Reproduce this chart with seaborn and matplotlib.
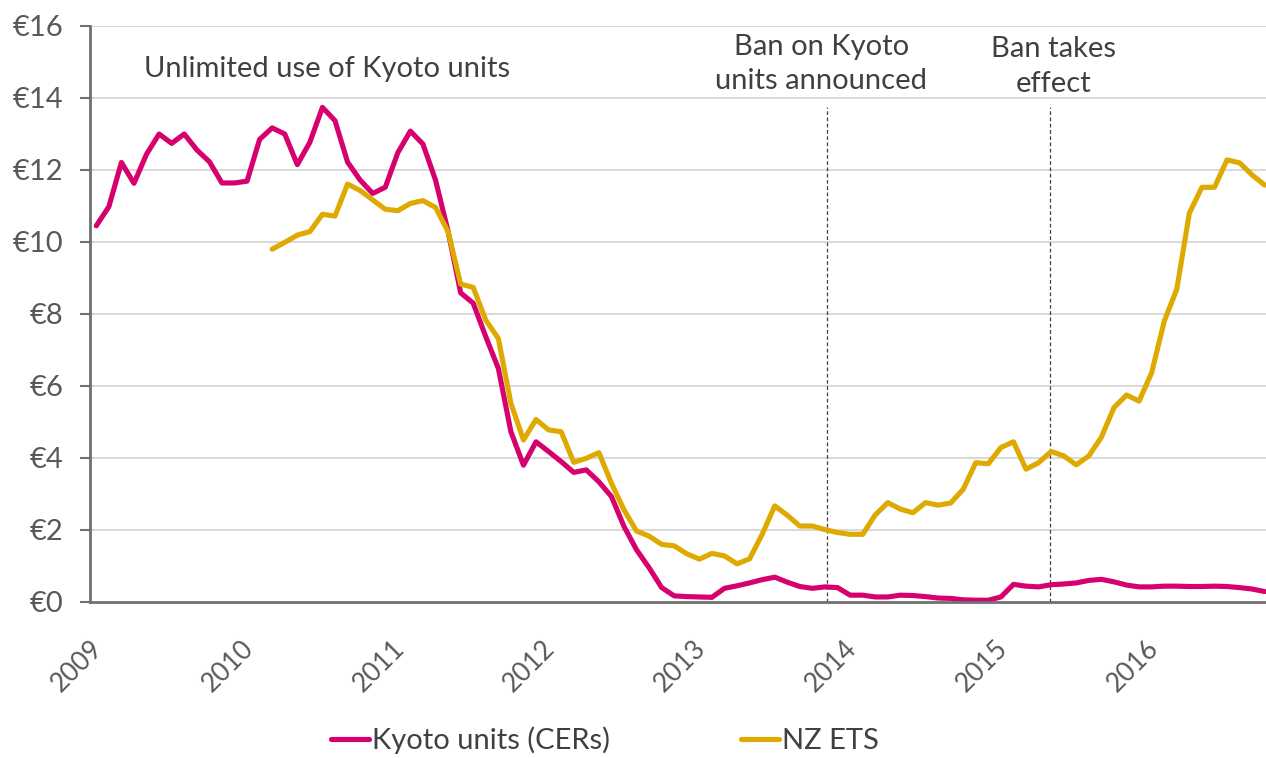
import numpy as np
import pandas as pd
import matplotlib
matplotlib.use("Agg")
import matplotlib.pyplot as plt
import matplotlib.transforms as mtransforms
import seaborn as sns

# Monatswerte ab Januar 2009 (Preis in Euro)
kyoto_start = "2009-01"
kyoto_cers = [
    10.45, 10.98, 12.21, 11.63, 12.44, 13.00, 12.74, 13.00, 12.56, 12.23, 11.64, 11.64,
    11.69, 12.85, 13.17, 13.00, 12.15, 12.77, 13.74, 13.37, 12.22, 11.72, 11.35, 11.52,
    12.48, 13.08, 12.72, 11.72, 10.30, 8.59, 8.30, 7.37, 6.49, 4.73, 3.80, 4.45,
    4.18, 3.90, 3.60, 3.67, 3.34, 2.93, 2.10, 1.45, 0.95, 0.40, 0.17, 0.15,
    0.14, 0.13, 0.38, 0.45, 0.53, 0.62, 0.69, 0.55, 0.43, 0.38, 0.42, 0.40,
    0.19, 0.19, 0.14, 0.14, 0.19, 0.18, 0.15, 0.11, 0.10, 0.06, 0.05, 0.05,
    0.14, 0.49, 0.44, 0.42, 0.48, 0.50, 0.53, 0.60, 0.63, 0.56, 0.47, 0.42,
    0.42, 0.44, 0.44, 0.43, 0.43, 0.44, 0.43, 0.40, 0.36, 0.29,
]

# NZ ETS ab März 2010
nz_start = "2010-03"
nz_ets = [
    9.80, 9.99, 10.19, 10.29, 10.77, 10.72, 11.61, 11.43, 11.17, 10.91,
    10.87, 11.07, 11.15, 10.96, 10.29, 8.83, 8.74, 7.83, 7.32, 5.52, 4.50, 5.07,
    4.78, 4.73, 3.88, 3.99, 4.15, 3.30, 2.56, 1.97, 1.83, 1.60, 1.56, 1.34,
    1.19, 1.35, 1.28, 1.06, 1.20, 1.88, 2.67, 2.41, 2.11, 2.11, 2.01, 1.93,
    1.88, 1.88, 2.42, 2.76, 2.58, 2.48, 2.76, 2.69, 2.75, 3.13, 3.87, 3.84,
    4.29, 4.45, 3.69, 3.87, 4.18, 4.06, 3.81, 4.06, 4.58, 5.40, 5.75, 5.58,
    6.37, 7.80, 8.69, 10.80, 11.52, 11.52, 12.28, 12.20, 11.86, 11.58,
]

series_names = ["Kyoto units (CERs)", "NZ ETS"]
series_colors = ["#D6006E", "#DEA900"]
year_ticks = list(range(2009, 2017))
y_ticks = list(range(0, 17, 2))

# Ereignisse (Dezimaljahr) und Beschriftungen
events = [2013.89, 2015.37]
event_labels = ["Ban on Kyoto\nunits announced", "Ban takes\neffect"]


def to_frame(start, values, name):
    dates = pd.date_range(start, periods=len(values), freq="MS")
    # Punkte in der Monatsmitte, wie bei Excel-Datumsachsen
    x = dates.year + (dates.month - 0.5) / 12
    return pd.DataFrame({"x": x, "price": values, "series": name})


df = pd.concat([
    to_frame(kyoto_start, kyoto_cers, series_names[0]),
    to_frame(nz_start, nz_ets, series_names[1]),
], ignore_index=True)

sns.set_theme(style="white")
plt.rcParams["font.family"] = ["Lato", "DejaVu Sans"]
text_col = "#404040"
fs = 21

fig = plt.figure(figsize=(12.66, 7.58), dpi=100)
ax = fig.add_axes([90 / 1266, 1 - 602 / 758, 1 - 90 / 1266, (602 - 26) / 758])

for y in y_ticks[1:]:
    ax.axhline(y, color="#d9d9d9", lw=1.5, zorder=0)

sns.lineplot(data=df, x="x", y="price", hue="series", hue_order=series_names,
             palette=series_colors, linewidth=3.7, ax=ax, legend=True)

for xv in events:
    ax.plot([xv, xv], [0, 13.75], ls=(0, (3, 2)), color="#404040", lw=0.9, zorder=1)

ax.set_xlim(2009, 2016.8)
ax.set_ylim(0, 16)
ax.set_xticks(year_ticks)
ax.set_xticklabels([str(y) for y in year_ticks], rotation=45, ha="right",
                   rotation_mode="anchor", fontsize=19, color="#595959")
# Beschriftungen etwas nach rechts schieben (Excel-Stil)
shift = mtransforms.ScaledTranslation(10 / 100, 0, fig.dpi_scale_trans)
for lbl in ax.get_xticklabels():
    lbl.set_transform(lbl.get_transform() + shift)
ax.set_yticks(y_ticks)
ax.set_yticklabels([f"€{y}" for y in y_ticks], fontsize=fs, color="#595959")
ax.tick_params(axis="y", length=7, width=1.5, color="#707070", direction="out",
               left=True, pad=12)
ax.tick_params(axis="x", length=0, pad=24)
ax.set_xlabel("")
ax.set_ylabel("")

for side in ["top", "right"]:
    ax.spines[side].set_visible(False)
for side in ["left", "bottom"]:
    ax.spines[side].set_color("#707070")
    ax.spines[side].set_linewidth(2)

ax.text(2010.57, 14.8, "Unlimited use of Kyoto units", fontsize=fs,
        color=text_col, ha="center", va="center")
ax.text(2013.85, 14.95, event_labels[0], fontsize=fs, color=text_col,
        ha="center", va="center", linespacing=1.4)
ax.text(2015.39, 14.87, event_labels[1], fontsize=fs, color=text_col,
        ha="center", va="center", linespacing=1.4)

handles, labels = ax.get_legend_handles_labels()
ax.get_legend().remove()
fig.legend(handles, labels, loc="center", bbox_to_anchor=(605 / 1266, 1 - 740 / 758),
           ncol=2, frameon=False, fontsize=fs, handlelength=1.3, handletextpad=0.1,
           columnspacing=4.5, labelcolor=text_col)

fig.savefig("out.png", dpi=100)
